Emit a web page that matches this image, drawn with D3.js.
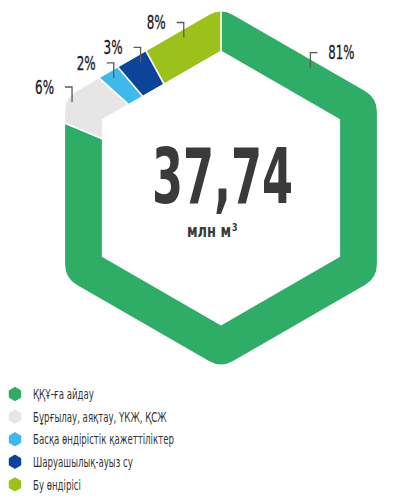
<!DOCTYPE html>
<html>
<head>
<meta charset="utf-8">
<script src="https://cdn.jsdelivr.net/npm/d3@7"></script>
<style>
  body { margin: 0; background: #fff; }
  svg { display: block; font-family: "Liberation Sans Narrow", "DejaVu Sans Condensed", "Roboto", sans-serif; }
</style>
</head>
<body>
<svg id="chart" width="399" height="498"></svg>
<script>
// data
const categories = ["ҚҚҰ-ға айдау", "Бұрғылау, аяқтау, ҮКЖ, ҚСЖ", "Басқа өндірістік қажеттіліктер", "Шаруашылық-ауыз су", "Бу өндірісі"];
const shares = [81, 6, 2, 3, 8];
const shareLabels = ["81%", "6%", "2%", "3%", "8%"];
const colors = ["#2fac66", "#e6e6e6", "#3fb8ec", "#0b4499", "#9dc11b"];
const totalValue = "37,74";
const unitLabel = "млн м";

// layout of the hexagon ring
const cx = 221, cy = 188;
const rOut = 180, rIn = 136.7, corner = 24;
const labelT = [0.6, 5.0, 5.28, 5.46, 5.75];  // where each leader line touches the ring
const labelSide = [1, -1, -1, -1, -1];
const squeeze = 0.66;  // condensed look for the legend font

const svg = d3.select("#chart");

// perimeter position (0..6 edges, clockwise from the top vertex)
const tScale = d3.scaleLinear().domain([0, d3.sum(shares)]).range([0, 6]);

function vertex(k, r) {
  const a = (-90 + 60 * k) * Math.PI / 180;
  return [cx + r * Math.cos(a), cy + r * Math.sin(a)];
}
function pointAt(t, r) {
  const k = Math.min(Math.floor(t), 5);
  const f = t - k;
  const a = vertex(k, r), b = vertex(k + 1, r);
  return [a[0] + f * (b[0] - a[0]), a[1] + f * (b[1] - a[1])];
}
function ringPath(t0, t1, r) {
  const pts = [pointAt(t0, r)];
  for (let k = Math.floor(t0) + 1; k < t1; k++) pts.push(vertex(k, r));
  pts.push(pointAt(t1, r));
  return pts;
}

// rounded outer hexagon used as clip
const clip = d3.path();
const v5 = vertex(5, rOut), v0 = vertex(0, rOut);
clip.moveTo((v5[0] + v0[0]) / 2, (v5[1] + v0[1]) / 2);
for (let k = 0; k < 6; k++) {
  const a = vertex(k, rOut), b = vertex(k + 1, rOut);
  clip.arcTo(a[0], a[1], b[0], b[1], corner);
}
clip.closePath();
svg.append("defs").append("clipPath").attr("id", "hexClip")
  .append("path").attr("d", clip.toString());

const ends = d3.cumsum(shares);
const segments = shares.map((v, i) => ({
  t0: tScale(ends[i] - v),
  t1: tScale(ends[i]),
  color: colors[i]
}));

svg.append("g")
  .attr("clip-path", "url(#hexClip)")
  .selectAll("path")
  .data(segments)
  .enter()
  .append("path")
  .attr("d", d => {
    const pts = ringPath(d.t0, d.t1, rOut + 30).concat(ringPath(d.t0, d.t1, rIn).reverse());
    return d3.line()(pts) + "Z";
  })
  .attr("fill", d => d.color)
  .attr("stroke", "#fff")
  .attr("stroke-width", 1.5);

// percentage labels with leader lines
const labels = svg.append("g");
shareLabels.forEach((txt, i) => {
  const p = pointAt(labelT[i], 172);
  const s = labelSide[i];
  const top = p[1] - 15;
  labels.append("path")
    .attr("d", d3.line()([p, [p[0], top], [p[0] + s * 7, top]]))
    .attr("fill", "none")
    .attr("stroke", "#5a5a5a")
    .attr("stroke-width", 1.3);
  labels.append("text")
    .attr("x", p[0] + s * 18)
    .attr("y", top)
    .attr("dy", "0.36em")
    .attr("text-anchor", s > 0 ? "start" : "end")
    .attr("font-size", 19)
    .attr("textLength", txt.length > 2 ? 26 : 19)
    .attr("lengthAdjust", "spacingAndGlyphs")
    .attr("fill", "#1a1a22")
    .attr("stroke", "#1a1a22")
    .attr("stroke-width", 0.3)
    .text(txt);
});

// centre total
svg.append("text")
  .attr("x", 222.5)
  .attr("y", 203)
  .attr("text-anchor", "middle")
  .attr("font-size", 77)
  .attr("font-weight", "bold")
  .attr("textLength", 141)
  .attr("lengthAdjust", "spacingAndGlyphs")
  .attr("fill", "#3a3a3a")
  .text(totalValue);

const unit = svg.append("text")
  .attr("transform", "translate(187,237) scale(0.8,1)")
  .attr("font-size", 18)
  .attr("font-weight", "bold")
  .attr("fill", "#3a3a3a");
unit.append("tspan").text(unitLabel);
unit.append("tspan").attr("font-size", 11).attr("dx", 1).attr("dy", -6.5).text("3");

// legend
const legend = svg.append("g").selectAll("g")
  .data(categories)
  .enter()
  .append("g")
  .attr("transform", (d, i) => `translate(15, ${394 + i * 22.6})`);

const hexMarker = d3.line()(d3.range(6).map(k => {
  const a = (-90 + 60 * k) * Math.PI / 180;
  return [6.3 * Math.cos(a), 6.3 * Math.sin(a)];
})) + "Z";

legend.append("path")
  .attr("d", hexMarker)
  .attr("fill", (d, i) => colors[i])
  .attr("stroke", (d, i) => colors[i])
  .attr("stroke-width", 1.5)
  .attr("stroke-linejoin", "round");

legend.append("text")
  .attr("transform", `translate(18,0) scale(${squeeze},1)`)
  .attr("dy", "0.36em")
  .attr("font-size", 14.5)
  .attr("fill", "#333")
  .text(d => d);
</script>
</body>
</html>
